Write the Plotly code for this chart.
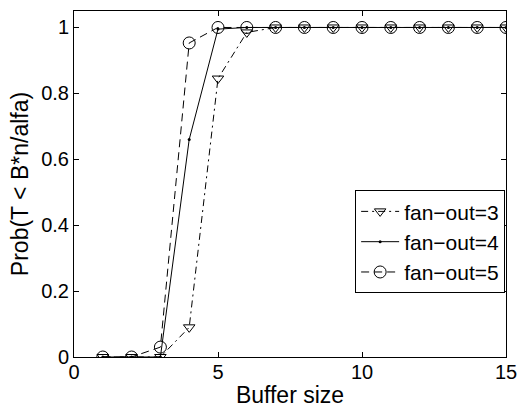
import plotly.graph_objects as go

buffer_size = list(range(1, 16))
fanout3 = [0, 0, 0, 0.09, 0.845, 0.985, 1, 1, 1, 1, 1, 1, 1, 1, 1]
fanout4 = [0, 0, 0, 0.66, 0.995, 1, 1, 1, 1, 1, 1, 1, 1, 1, 1]
fanout5 = [0, 0, 0.03, 0.953, 1, 1, 1, 1, 1, 1, 1, 1, 1, 1, 1]

FONT = "Liberation Sans, Arial, Helvetica, sans-serif"

fig = go.Figure()
fig.add_trace(go.Scatter(
    x=buffer_size, y=fanout3, name="fan\u2212out=3", mode="lines+markers",
    line=dict(color="black", width=1, dash="7px,4px,2px,4px"),
    marker=dict(symbol="triangle-down-open", size=10, color="black", line=dict(width=1, color="black")),
))
fig.add_trace(go.Scatter(
    x=buffer_size, y=fanout4, name="fan\u2212out=4", mode="lines+markers",
    line=dict(color="black", width=1),
    marker=dict(symbol="circle", size=3, color="black"),
))
fig.add_trace(go.Scatter(
    x=buffer_size, y=fanout5, name="fan\u2212out=5", mode="lines+markers",
    line=dict(color="black", width=1, dash="8px,5px"),
    marker=dict(symbol="circle-open", size=12, color="black", line=dict(width=1, color="black")),
))

axis_common = dict(
    showgrid=False, zeroline=False, showline=True, linecolor="black", linewidth=1,
    mirror="ticks", ticks="inside", ticklen=5, tickcolor="black", tickwidth=1,
    tickfont=dict(family=FONT, size=20, color="black"), automargin=False,
)
fig.update_xaxes(range=[0, 15], tickvals=[0, 5, 10, 15], ticktext=["0", "5", "10", "15"],
                 ticklabelstandoff=-3,
                 title=dict(text="Buffer size", font=dict(family=FONT, size=23, color="black"), standoff=8),
                 **axis_common)
fig.update_yaxes(range=[0, 1.05], tickvals=[0, 0.2, 0.4, 0.6, 0.8, 1],
                 ticktext=["0", "0.2", "0.4", "0.6", "0.8", "1"],
                 title=dict(text="Prob(T < B*n/alfa)", font=dict(family=FONT, size=23, color="black"), standoff=6),
                 **axis_common)
fig.update_layout(
    width=518, height=408,
    margin=dict(l=74, r=12, t=11, b=51, autoexpand=False),
    paper_bgcolor="white", plot_bgcolor="white",
    showlegend=True,
    legend=dict(x=0.998, y=0.482, xanchor="right", yanchor="top",
                bgcolor="white", bordercolor="black", borderwidth=1,
                font=dict(family=FONT, size=21, color="black"),
                tracegroupgap=0, itemwidth=38),
)
fig.write_html("out.html")
